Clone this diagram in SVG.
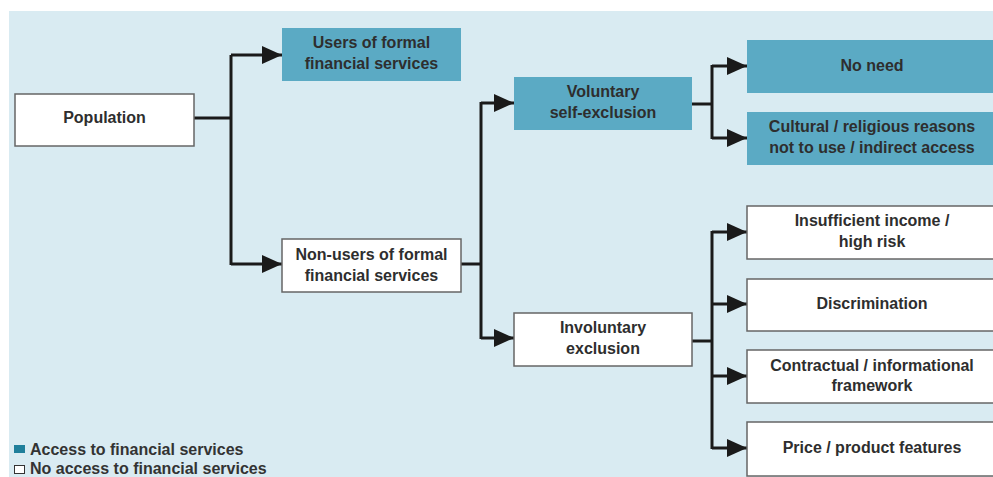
<svg xmlns="http://www.w3.org/2000/svg" width="993" height="477" viewBox="0 0 993 477">
  <defs>
    <marker id="arr" markerUnits="userSpaceOnUse" markerWidth="20" markerHeight="18" refX="20" refY="9" orient="auto">
      <path d="M0,0 L20,9 L0,18 Z" fill="#1a1a1a"/>
    </marker>
    <style>
      .bg { fill: #d9ebf2; }
      .acc { fill: #5baac4; }
      .noacc { fill: #ffffff; stroke: #666; stroke-width: 1.5; }
      .t { font-family: "Liberation Sans", Arial, sans-serif; font-weight: bold; font-size: 16px; fill: #2e2e2e; text-anchor: middle; }
      .lg { font-family: "Liberation Sans", Arial, sans-serif; font-weight: bold; font-size: 16px; fill: #333; }
      .c { fill: none; stroke: #1a1a1a; stroke-width: 3; }
    </style>
  </defs>
  <rect x="0" y="0" width="993" height="477" fill="#ffffff"/>
  <rect class="bg" x="9" y="11" width="984" height="466"/>

  <g id="connectors">
    <path class="c" d="M194,118 H231"/>
    <path class="c" d="M231,55 V265"/>
    <path class="c" d="M231,55 H282" marker-end="url(#arr)"/>
    <path class="c" d="M231,264 H282" marker-end="url(#arr)"/>

    <path class="c" d="M461,264 H481"/>
    <path class="c" d="M481,102 V339"/>
    <path class="c" d="M481,103 H514" marker-end="url(#arr)"/>
    <path class="c" d="M481,338 H514" marker-end="url(#arr)"/>

    <path class="c" d="M692,104 H712"/>
    <path class="c" d="M712,65 V139"/>
    <path class="c" d="M712,66 H747" marker-end="url(#arr)"/>
    <path class="c" d="M712,138 H747" marker-end="url(#arr)"/>

    <path class="c" d="M692,341 H712"/>
    <path class="c" d="M712,231 V449"/>
    <path class="c" d="M712,232 H747" marker-end="url(#arr)"/>
    <path class="c" d="M712,304 H747" marker-end="url(#arr)"/>
    <path class="c" d="M712,376 H747" marker-end="url(#arr)"/>
    <path class="c" d="M712,448 H747" marker-end="url(#arr)"/>
  </g>

  <g id="population">
    <rect class="noacc" x="15" y="94" width="179" height="52"/>
    <text class="t" x="104.5" y="123">Population</text>
  </g>
  <g id="users">
    <rect class="acc" x="282" y="28" width="179" height="53"/>
    <text class="t" x="371.5" y="48">Users of formal</text>
    <text class="t" x="371.5" y="69">financial services</text>
  </g>
  <g id="nonusers">
    <rect class="noacc" x="282" y="239" width="179" height="53"/>
    <text class="t" x="371.5" y="260">Non-users of formal</text>
    <text class="t" x="371.5" y="281">financial services</text>
  </g>
  <g id="voluntary">
    <rect class="acc" x="514" y="77" width="178" height="53"/>
    <text class="t" x="603" y="97">Voluntary</text>
    <text class="t" x="603" y="118">self-exclusion</text>
  </g>
  <g id="involuntary">
    <rect class="noacc" x="514" y="313" width="178" height="53"/>
    <text class="t" x="603" y="333">Involuntary</text>
    <text class="t" x="603" y="354">exclusion</text>
  </g>
  <g id="noneed">
    <rect class="acc" x="747" y="40" width="252" height="53"/>
    <text class="t" x="872" y="71">No need</text>
  </g>
  <g id="cultural">
    <rect class="acc" x="747" y="112" width="252" height="53"/>
    <text class="t" x="872" y="132">Cultural / religious reasons</text>
    <text class="t" x="872" y="153">not to use / indirect access</text>
  </g>
  <g id="income">
    <rect class="noacc" x="747" y="206" width="252" height="53"/>
    <text class="t" x="872" y="226">Insufficient income /</text>
    <text class="t" x="872" y="247">high risk</text>
  </g>
  <g id="discrimination">
    <rect class="noacc" x="747" y="279" width="252" height="52"/>
    <text class="t" x="872" y="309">Discrimination</text>
  </g>
  <g id="contractual">
    <rect class="noacc" x="747" y="350" width="252" height="53"/>
    <text class="t" x="872" y="371">Contractual / informational</text>
    <text class="t" x="872" y="391">framework</text>
  </g>
  <g id="price">
    <rect class="noacc" x="747" y="422" width="252" height="54"/>
    <text class="t" x="872" y="453">Price / product features</text>
  </g>

  <g id="legend">
    <rect x="14" y="445" width="11" height="8" fill="#1f7f9b"/>
    <text class="lg" x="30" y="455">Access to financial services</text>
    <rect x="14.5" y="465.5" width="10" height="8" fill="#ffffff" stroke="#333" stroke-width="1"/>
    <text class="lg" x="30" y="474">No access to financial services</text>
  </g>
</svg>
